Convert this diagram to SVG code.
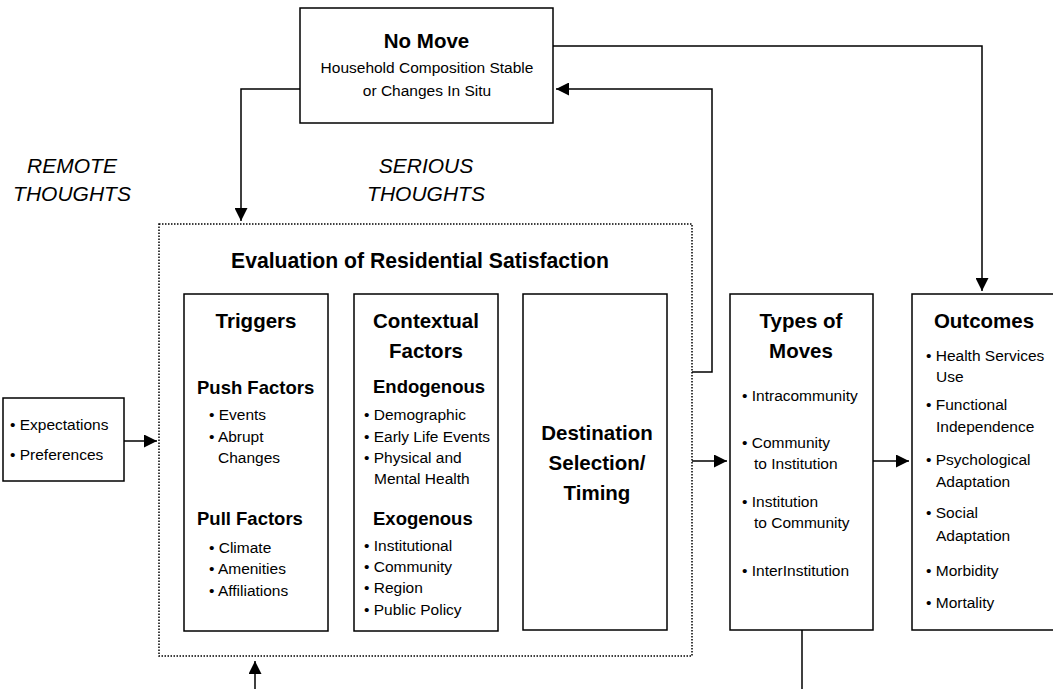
<svg xmlns="http://www.w3.org/2000/svg" width="1053" height="689" viewBox="0 0 1053 689">
<style>
text{font-family:"Liberation Sans",Arial,sans-serif;fill:#000}
.t{font-size:20.5px;font-weight:bold;text-anchor:middle}
.h{font-size:18.5px;font-weight:bold}
.b{font-size:15.5px}
.c{text-anchor:middle}
.i{font-size:21px;font-style:italic;text-anchor:middle}
.box{fill:#fff;stroke:#000;stroke-width:1.5}
.dot{fill:none;stroke:#000;stroke-width:1.5;stroke-dasharray:1.5 1.5}
.con{fill:none;stroke:#000;stroke-width:1.5}
</style>
<defs>
<marker id="ah" viewBox="0 0 13 13" refX="13" refY="6.5" markerWidth="13" markerHeight="13" markerUnits="userSpaceOnUse" orient="auto">
<path d="M0,0 L13,6.5 L0,13 z" fill="#000"/>
</marker>
</defs>
<rect width="1053" height="689" fill="#fff"/>

<g id="labels">
<text class="i" x="72" y="173">REMOTE</text>
<text class="i" x="72" y="201">THOUGHTS</text>
<text class="i" x="426" y="173">SERIOUS</text>
<text class="i" x="426" y="201">THOUGHTS</text>
</g>

<g id="no-move">
<rect class="box" x="300" y="8" width="253" height="115"/>
<text class="t" x="426.5" y="48">No Move</text>
<text class="b c" x="427" y="73">Household Composition Stable</text>
<text class="b c" x="427" y="96">or Changes In Situ</text>
</g>

<g id="evaluation">
<rect class="dot" x="159" y="224" width="533" height="432"/>
<text class="t" x="420" y="268" style="font-size:21.2px">Evaluation of Residential Satisfaction</text>
</g>

<g id="triggers">
<rect class="box" x="184" y="294" width="144" height="337"/>
<text class="t" x="256" y="328">Triggers</text>
<text class="h" x="197" y="394">Push Factors</text>
<text class="b" x="209" y="420">• Events</text>
<text class="b" x="209" y="442">• Abrupt</text>
<text class="b" x="218" y="463">Changes</text>
<text class="h" x="197" y="525">Pull Factors</text>
<text class="b" x="209" y="553">• Climate</text>
<text class="b" x="209" y="574">• Amenities</text>
<text class="b" x="209" y="596">• Affiliations</text>
</g>

<g id="contextual">
<rect class="box" x="354" y="294" width="144" height="337"/>
<text class="t" x="426" y="328">Contextual</text>
<text class="t" x="426" y="358">Factors</text>
<text class="h" x="373" y="393">Endogenous</text>
<text class="b" x="364" y="420">• Demographic</text>
<text class="b" x="364" y="442">• Early Life Events</text>
<text class="b" x="364" y="463">• Physical and</text>
<text class="b" x="374" y="484">Mental Health</text>
<text class="h" x="373" y="525">Exogenous</text>
<text class="b" x="364" y="551">• Institutional</text>
<text class="b" x="364" y="572">• Community</text>
<text class="b" x="364" y="593">• Region</text>
<text class="b" x="364" y="615">• Public Policy</text>
</g>

<g id="destination">
<rect class="box" x="523" y="294" width="144" height="336"/>
<text class="t" x="597" y="440">Destination</text>
<text class="t" x="597" y="470">Selection/</text>
<text class="t" x="597" y="500">Timing</text>
</g>

<g id="types">
<rect class="box" x="730" y="294" width="143" height="336"/>
<text class="t" x="801" y="328">Types of</text>
<text class="t" x="801" y="358">Moves</text>
<text class="b" x="742" y="401">• Intracommunity</text>
<text class="b" x="742" y="448">• Community</text>
<text class="b" x="754" y="469">to Institution</text>
<text class="b" x="742" y="507">• Institution</text>
<text class="b" x="754" y="528">to Community</text>
<text class="b" x="742" y="576">• InterInstitution</text>
</g>

<g id="outcomes">
<rect class="box" x="912" y="294" width="150" height="336"/>
<text class="t" x="984" y="328">Outcomes</text>
<text class="b" x="926" y="361">• Health Services</text>
<text class="b" x="936" y="382">Use</text>
<text class="b" x="926" y="410">• Functional</text>
<text class="b" x="936" y="432">Independence</text>
<text class="b" x="926" y="465">• Psychological</text>
<text class="b" x="936" y="487">Adaptation</text>
<text class="b" x="926" y="518">• Social</text>
<text class="b" x="936" y="541">Adaptation</text>
<text class="b" x="926" y="576">• Morbidity</text>
<text class="b" x="926" y="608">• Mortality</text>
</g>

<g id="expectations">
<rect class="box" x="3" y="398" width="121" height="83"/>
<text class="b" x="10" y="430">• Expectations</text>
<text class="b" x="10" y="460">• Preferences</text>
</g>

<g id="connectors">
<path class="con" d="M300,89 H241 V221" marker-end="url(#ah)"/>
<path class="con" d="M553,46 H982 V291" marker-end="url(#ah)"/>
<path class="con" d="M692,372 H712 V89 H556" marker-end="url(#ah)"/>
<path class="con" d="M692,461 H727" marker-end="url(#ah)"/>
<path class="con" d="M873,461 H909" marker-end="url(#ah)"/>
<path class="con" d="M124,441 H157" marker-end="url(#ah)"/>
<path class="con" d="M255,689 V661" marker-end="url(#ah)"/>
<path class="con" d="M802,630 V689"/>
</g>
</svg>
